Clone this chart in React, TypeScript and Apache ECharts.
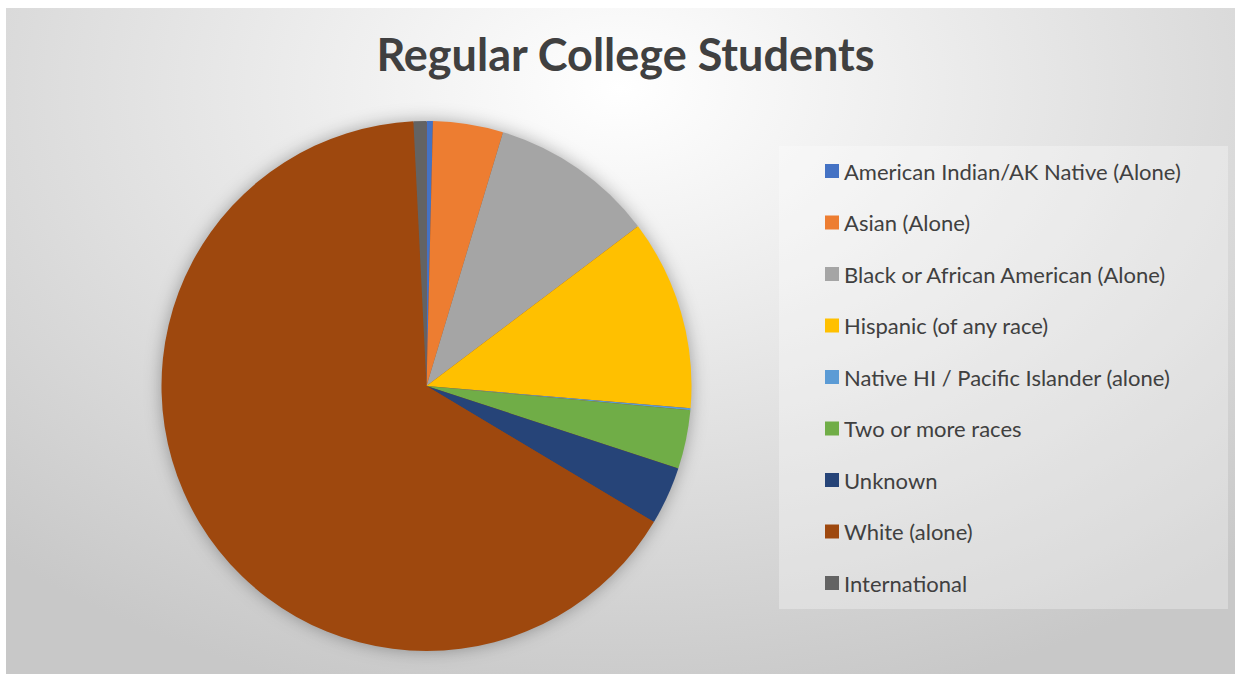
import React, { useEffect, useRef } from "react";
import * as echarts from "echarts";

const TITLE = "Regular College Students";
const categories = [
  "American Indian/AK Native (Alone)",
  "Asian (Alone)",
  "Black or African American (Alone)",
  "Hispanic (of any race)",
  "Native HI / Pacific Islander (alone)",
  "Two or more races",
  "Unknown",
  "White (alone)",
  "International",
];
const values = [0.39, 4.27, 10.05, 11.63, 0.12, 3.58, 3.54, 65.63, 0.79];
const colors = [
  "#4472C4",
  "#ED7D31",
  "#A5A5A5",
  "#FFC000",
  "#5B9BD5",
  "#70AD47",
  "#264478",
  "#9E480E",
  "#636363",
];

export default function App() {
  const ref = useRef<HTMLDivElement>(null);
  useEffect(() => {
    if (!ref.current) return;
    const chart = echarts.init(ref.current, undefined, { renderer: "svg" });
    const font = "Lato, 'Noto Sans', sans-serif";
    chart.setOption({
      animation: false,
      backgroundColor: "transparent",
      color: colors,
      title: {
        text: TITLE,
        left: 619.5,
        textAlign: "center",
        top: 23,
        padding: 0,
        textStyle: {
          fontFamily: font,
          fontSize: 45,
          fontWeight: "bold",
          color: "#404040",
        },
      },
      graphic: [
        {
          type: "rect",
          left: 773,
          top: 138,
          shape: { width: 449, height: 463 },
          style: { fill: "rgba(255,255,255,0.3)" },
          z: -1,
        },
      ],
      legend: {
        orient: "vertical",
        left: 819,
        top: 152,
        padding: 0,
        itemWidth: 14,
        itemHeight: 14,
        itemGap: 29.5,
        icon: "rect",
        data: categories,
        textStyle: {
          fontFamily: font,
          fontSize: 22,
          color: "#404040",
        },
      },
      series: [
        {
          type: "pie",
          name: "shadow",
          silent: true,
          center: [420.5, 378],
          radius: [0, 264],
          startAngle: 90,
          label: { show: false },
          labelLine: { show: false },
          z: 1,
          data: [{ name: "_bg", value: 1, itemStyle: { color: "#9E480E", shadowBlur: 18, shadowColor: "rgba(0,0,0,0.35)" } }],
          legendHoverLink: false,
        },
        {
          type: "pie",
          name: TITLE,
          center: [420.5, 378],
          radius: [0, 265],
          startAngle: 90,
          clockwise: true,
          label: { show: false },
          labelLine: { show: false },
          itemStyle: { borderWidth: 0 },
          z: 2,
          data: categories.map((c, i) => ({ name: c, value: values[i] })),
        },
      ],
    });
    return () => chart.dispose();
  }, []);
  return (
    <div
      ref={ref}
      style={{
        position: "absolute",
        left: 6,
        top: 8,
        width: 1229,
        height: 666,
        background:
          "radial-gradient(ellipse 75% 95% at 50% 12%, #ffffff 0%, #ececec 35%, #d6d6d6 75%, #c8c8c8 100%)",
      }}
    />
  );
}
